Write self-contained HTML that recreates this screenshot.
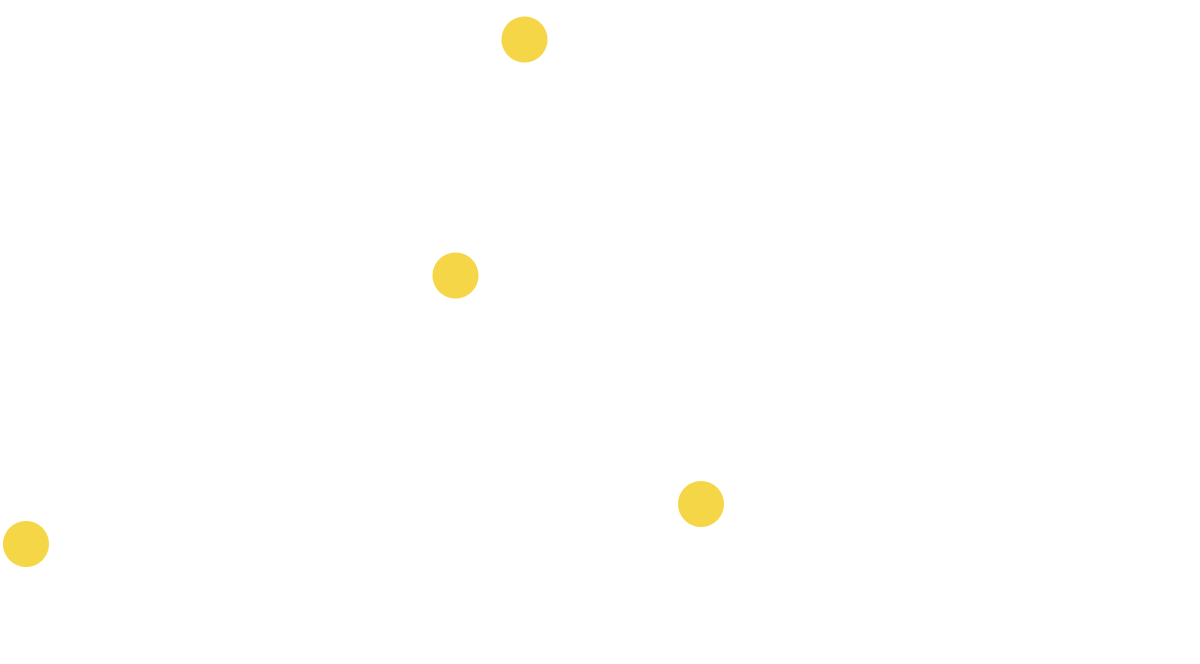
<!DOCTYPE html>
<html><head><style>
html,body{margin:0;padding:0;background:#fff;width:1200px;height:664px;overflow:hidden}
</style></head><body>
<svg width="1200" height="664" xmlns="http://www.w3.org/2000/svg">
<g fill="#F5D647">
<circle cx="524.5" cy="39.5" r="23"/>
<circle cx="455.5" cy="275.5" r="23"/>
<circle cx="701" cy="504" r="23"/>
<circle cx="26" cy="544" r="23"/>
</g>
</svg>
</body></html>
